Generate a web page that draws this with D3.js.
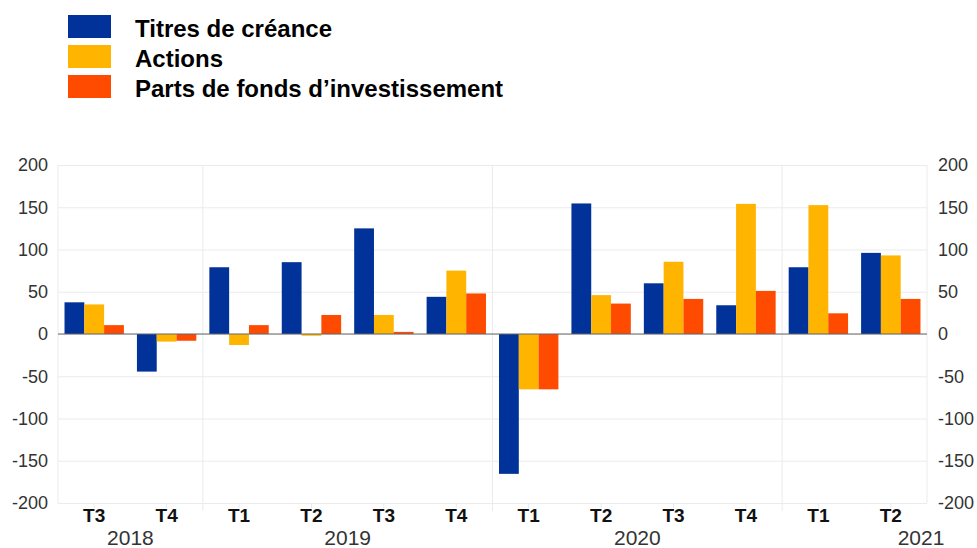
<!DOCTYPE html>
<html>
<head>
<meta charset="utf-8">
<script src="https://cdn.jsdelivr.net/npm/d3@7"></script>
<style>
  html, body { margin: 0; padding: 0; background: #fff; }
  svg { display: block; font-family: "Liberation Sans", Arial, sans-serif; }
</style>
</head>
<body>
<div id="chart"></div>
<script>
// quarterly flows
const quarters = ['T3','T4','T1','T2','T3','T4','T1','T2','T3','T4','T1','T2'];
const quarterYear = ['2018','2018','2019','2019','2019','2019','2020','2020','2020','2020','2021','2021'];
const years = ['2018','2019','2020','2021'];
const seriesNames = ['Titres de créance', 'Actions', 'Parts de fonds d\u2019investissement'];
const seriesColors = ['#003299', '#ffb400', '#ff4b00'];
const titres  = [37.5, -44.5, 79, 85, 125, 44, -165.5, 154.5, 60, 34, 79, 96];
const actions = [35, -9, -13, -2, 22.5, 75, -65.5, 46, 85.5, 154, 152.5, 93];
const parts   = [10.5, -8, 10.5, 22.5, 2.5, 48, -65.5, 36, 41.5, 51, 24.5, 41.5];
const yTicks = [-200, -150, -100, -50, 0, 50, 100, 150, 200];

(function(){
  const W = 977, H = 548;
  const m = { left: 58, right: 50, top: 165, bottom: 45 };
  const values = [titres, actions, parts];

  const svg = d3.select('#chart').append('svg').attr('width', W).attr('height', H);

  const x0 = d3.scaleBand().domain(d3.range(quarters.length))
    .range([m.left, W - m.right]).paddingInner(0.18).paddingOuter(0.09);
  const x1 = d3.scaleBand().domain(d3.range(seriesNames.length)).range([0, x0.bandwidth()]);
  const y = d3.scaleLinear().domain([-200, 200]).range([H - m.bottom, m.top]);
  const gap = x0.step() * x0.paddingInner() / 2;

  // grid
  const grid = svg.append('g').attr('stroke', '#ebebeb').attr('stroke-width', 1);
  grid.selectAll('line.h').data(yTicks).join('line').attr('class', 'h')
    .attr('x1', m.left).attr('x2', W - m.right)
    .attr('y1', d => y(d) + 0.5).attr('y2', d => y(d) + 0.5);
  // year separators + frame sides
  const seps = [0, quarters.length].concat(d3.range(1, quarters.length).filter(i => quarterYear[i] !== quarterYear[i-1]));
  grid.selectAll('line.v').data(seps).join('line').attr('class', 'v')
    .attr('x1', i => i === quarters.length ? W - m.right : x0(i) - gap)
    .attr('x2', i => i === quarters.length ? W - m.right : x0(i) - gap)
    .attr('y1', m.top).attr('y2', i => (i === 0 || i === quarters.length) ? y(-200) : y(-200) + 8);
  grid.selectAll('line.t').data(d3.range(quarters.length)).join('line').attr('class', 't')
    .attr('x1', i => x0(i) + x0.bandwidth()/2).attr('x2', i => x0(i) + x0.bandwidth()/2)
    .attr('y1', y(-200)).attr('y2', y(-200) + 5);

  // bars
  const groups = svg.append('g').selectAll('g').data(d3.range(quarters.length)).join('g')
    .attr('transform', i => 'translate(' + x0(i) + ',0)');
  groups.selectAll('rect').data(i => values.map((v, s) => ({ s, v: v[i] }))).join('rect')
    .attr('x', d => x1(d.s)).attr('width', x1.bandwidth())
    .attr('y', d => y(Math.max(0, d.v))).attr('height', d => Math.abs(y(d.v) - y(0)))
    .attr('fill', d => seriesColors[d.s]);

  // zero line
  svg.append('line').attr('x1', m.left).attr('x2', W - m.right)
    .attr('y1', y(0)).attr('y2', y(0)).attr('stroke', '#666').attr('stroke-width', 1.2);

  // y labels, both sides
  const yl = svg.append('g').attr('font-size', 18).attr('fill', '#333');
  yl.selectAll('text.l').data(yTicks).join('text').attr('class', 'l')
    .attr('x', m.left - 10).attr('y', d => y(d)).attr('dy', '0.35em')
    .attr('text-anchor', 'end').text(d => d);
  yl.selectAll('text.r').data(yTicks).join('text').attr('class', 'r')
    .attr('x', W - m.right + 11).attr('y', d => y(d)).attr('dy', '0.35em')
    .attr('text-anchor', 'start').text(d => d);

  // quarter + year labels
  svg.append('g').attr('font-size', 19).attr('font-weight', 'bold').attr('fill', '#111')
    .selectAll('text').data(quarters).join('text')
    .attr('x', (d, i) => x0(i) + x0.bandwidth()/2).attr('y', y(-200) + 19)
    .attr('text-anchor', 'middle').text(d => d);
  svg.append('g').attr('font-size', 21).attr('fill', '#333')
    .selectAll('text').data(years).join('text')
    .attr('x', (yr, k) => {
      const idx = d3.range(quarters.length).filter(i => quarterYear[i] === yr);
      if(k === years.length - 1) return W - m.right - 6; // last year sits at the right edge
      return d3.mean(idx, i => x0(i) + x0.bandwidth()/2);
    })
    .attr('y', y(-200) + 42).attr('text-anchor', 'middle').text(d => d);

  // legend
  const lg = svg.append('g').selectAll('g').data(seriesNames).join('g')
    .attr('transform', (d, i) => 'translate(68,' + (15 + i*30) + ')');
  lg.append('rect').attr('width', 43).attr('height', 23).attr('fill', (d, i) => seriesColors[i]);
  lg.append('text').attr('x', 67).attr('y', 22).attr('font-size', 24).attr('font-weight', 'bold')
    .attr('fill', '#000').text(d => d);
})();
</script>
</body>
</html>
